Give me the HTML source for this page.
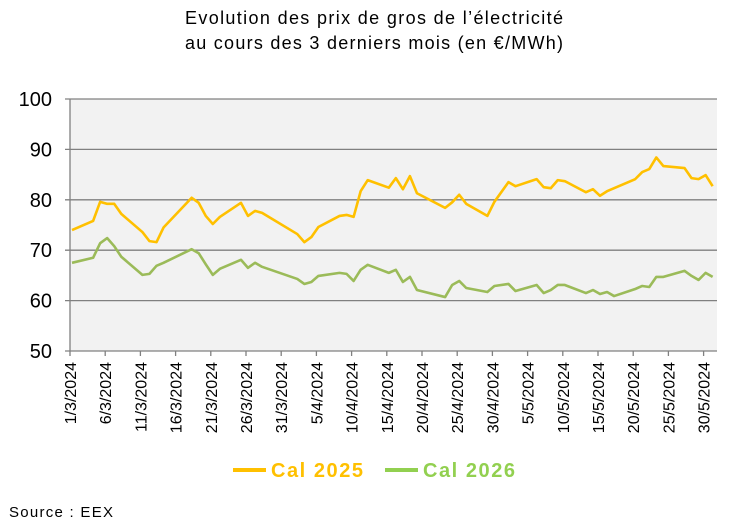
<!DOCTYPE html>
<html><head><meta charset="utf-8"><style>
body{margin:0;background:#fff;width:747px;height:525px;overflow:hidden;font-family:"Liberation Sans",sans-serif}
</style></head><body>
<svg id="chart" width="747" height="525" xmlns="http://www.w3.org/2000/svg" font-family="Liberation Sans, sans-serif">
<text x="185" y="24" font-size="18" fill="#000" textLength="378" lengthAdjust="spacing">Evolution des prix de gros de l’électricité</text>
<text x="185" y="49" font-size="18" fill="#000" textLength="378" lengthAdjust="spacing">au cours des 3 derniers mois (en €/MWh)</text>
<rect x="70" y="99" width="647" height="252" fill="#f2f2f2"/>
<g id="grid"></g><g id="xaxis"></g><g id="series"></g>
<g>
<line x1="233" y1="470" x2="266" y2="470" stroke="#ffc000" stroke-width="4"/>
<text x="271" y="477" font-size="20" font-weight="bold" fill="#ffc000" textLength="92" lengthAdjust="spacing">Cal 2025</text>
<line x1="385" y1="470" x2="418" y2="470" stroke="#92d050" stroke-width="4"/>
<text x="423" y="477" font-size="20" font-weight="bold" fill="#92d050" textLength="92" lengthAdjust="spacing">Cal 2026</text>
</g>
<text x="9" y="517" font-size="15" fill="#000" textLength="104" lengthAdjust="spacing">Source : EEX</text>
</svg>
<script>
const days=[0,3,4,5,6,7,10,11,12,13,17,18,19,20,21,24,25,26,27,32,33,34,35,38,39,40,41,42,45,46,47,48,49,53,54,55,56,59,60,62,63,66,67,68,69,70,73,74,75,76,77,80,81,82,83,84,87,88,89,90,91];
const cal2025=[74.0,75.8,79.6,79.2,79.2,77.2,73.6,71.8,71.6,74.5,80.4,79.4,76.8,75.2,76.6,79.4,76.8,77.8,77.4,73.2,71.6,72.6,74.6,76.8,77.0,76.6,81.7,83.9,82.4,84.3,82.1,84.7,81.3,78.4,79.5,81.0,79.2,76.8,79.6,83.5,82.7,84.1,82.5,82.3,83.9,83.7,81.5,82.1,80.8,81.7,82.3,84.1,85.5,86.1,88.4,86.7,86.3,84.3,84.1,84.9,82.7];
const cal2026=[67.5,68.5,71.4,72.4,70.8,68.7,65.1,65.3,66.9,67.5,70.2,69.4,67.2,65.1,66.3,68.1,66.5,67.5,66.7,64.3,63.3,63.7,64.9,65.5,65.3,63.9,66.1,67.1,65.5,66.1,63.7,64.7,62.1,60.7,63.1,63.9,62.5,61.7,62.9,63.3,61.9,63.1,61.5,62.1,63.1,63.1,61.5,62.1,61.3,61.7,60.9,62.3,62.9,62.7,64.7,64.7,65.9,64.9,64.1,65.5,64.7];
const yTicks=[50,60,70,80,90,100];
const xTickLabels=["1/3/2024","6/3/2024","11/3/2024","16/3/2024","21/3/2024","26/3/2024","31/3/2024","5/4/2024","10/4/2024","15/4/2024","20/4/2024","25/4/2024","30/4/2024","5/5/2024","10/5/2024","15/5/2024","20/5/2024","25/5/2024","30/5/2024"];
const xTickDays=[0,5,10,15,20,25,30,35,40,45,50,55,60,65,70,75,80,85,90];
const NS="http://www.w3.org/2000/svg";
const X=d=>70+d*7.04, XS=d=>72+d*7.04, Y=v=>351-(v-50)*5.04;
function mk(t,a,p){const e=document.createElementNS(NS,t);for(const k in a)e.setAttribute(k,a[k]);p.appendChild(e);return e;}
const grid=document.getElementById('grid');
yTicks.forEach(v=>{
 const l=mk('line',{x1:65,x2:717,y1:Y(v),y2:Y(v),stroke:'#808080','stroke-width':1.3},grid);
 
 
 const t=mk('text',{x:52,y:Y(v)+7,'text-anchor':'end','font-size':20,fill:'#000'},grid);
 t.textContent=v;
 
 
});
const ax=document.getElementById('xaxis');
const yl=mk('line',{x1:70,x2:70,y1:99,y2:351,stroke:'#808080','stroke-width':1.3},ax);


xTickDays.forEach((d,i)=>{
 const tk=mk('line',{x1:X(d),x2:X(d),y1:351,y2:356,stroke:'#808080','stroke-width':1.3},ax);
 
 
 const t=mk('text',{x:0,y:0,'text-anchor':'end','font-size':16,fill:'#000',transform:`translate(${X(d)+6},362) rotate(-90)`},ax);
 t.textContent=xTickLabels[i];
 
 
});
const s=document.getElementById('series');
[[cal2025,'#ffc000','line-cal2025'],[cal2026,'#9bbb59','line-cal2026']].forEach(([vals,c,n])=>{
 const p=mk('polyline',{points:vals.map((v,i)=>XS(days[i])+','+Y(v)).join(' '),fill:'none',stroke:c,'stroke-width':2.6,'stroke-linejoin':'round'},s);
 
 
});
</script>
</body></html>
